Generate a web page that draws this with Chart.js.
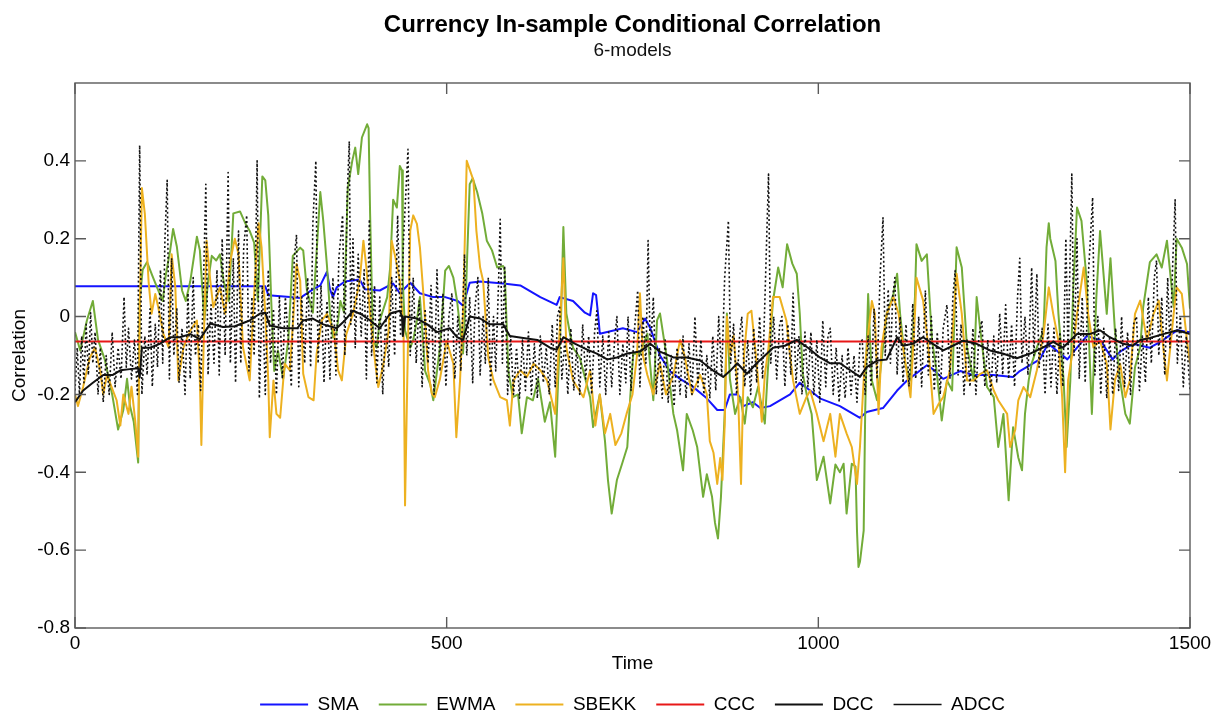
<!DOCTYPE html>
<html>
<head>
<meta charset="utf-8">
<script src="https://cdn.jsdelivr.net/npm/chart.js@4.4.1/dist/chart.umd.min.js"></script>
<style>
  html, body { margin: 0; padding: 0; background: #ffffff; }
  canvas { display: block; }
</style>
</head>
<body>
<canvas id="chart" width="1227" height="718"></canvas>
<script>
// Axis ticks
const xTicks = [0, 500, 1000, 1500];
const yTicks = [-0.8, -0.6, -0.4, -0.2, 0, 0.2, 0.4];

// Series names
const seriesNames = ['SMA', 'EWMA', 'SBEKK', 'CCC', 'DCC', 'ADCC'];

// SMA: [time, correlation]
const sma = [
  [0,0.078],[256,0.078],[260,0.055],[289,0.05],[303,0.048],[320,0.07],[330,0.08],[339,0.115],
  [343,0.07],[347,0.05],[352,0.075],[363,0.09],[383,0.095],[390,0.07],[410,0.067],[428,0.085],
  [437,0.06],[451,0.087],[464,0.06],[482,0.05],[498,0.05],[515,0.04],[522,0.028],[531,0.087],
  [545,0.09],[576,0.085],[599,0.08],[626,0.05],[648,0.03],[652,0.05],[670,0.04],[686,0.01],
  [693,0.003],[697,0.06],[701,0.055],[704,0.0],[706,-0.044],[726,-0.035],[737,-0.03],[756,-0.04],
  [767,-0.005],[774,-0.03],[787,-0.1],[800,-0.14],[814,-0.16],[831,-0.18],[850,-0.21],[864,-0.24],
  [874,-0.24],[881,-0.2],[892,-0.2],[899,-0.23],[912,-0.22],[922,-0.235],[935,-0.23],[962,-0.2],
  [975,-0.17],[989,-0.19],[1002,-0.21],[1029,-0.23],[1056,-0.26],[1065,-0.245],[1087,-0.235],
  [1106,-0.19],[1119,-0.165],[1146,-0.125],[1154,-0.135],[1168,-0.16],[1191,-0.14],[1208,-0.15],
  [1235,-0.15],[1262,-0.155],[1271,-0.14],[1298,-0.11],[1309,-0.07],[1316,-0.08],[1335,-0.11],
  [1348,-0.08],[1361,-0.05],[1379,-0.06],[1396,-0.11],[1406,-0.09],[1423,-0.07],[1446,-0.08],
  [1460,-0.065],[1483,-0.035],[1500,-0.04]
];

// EWMA: [time, correlation]
const ewma = [
  [0,-0.04],[7,-0.087],[16,-0.01],[24,0.04],[31,-0.06],[40,-0.11],[50,-0.2],[58,-0.29],[65,-0.24],
  [70,-0.16],[74,-0.23],[79,-0.27],[85,-0.375],[87,0.04],[91,0.12],[97,0.14],[104,0.105],[112,0.067],
  [118,0.04],[122,0.105],[128,0.17],[132,0.225],[137,0.18],[144,0.067],[149,0.04],[155,0.09],
  [164,0.205],[168,0.17],[174,-0.01],[179,0.09],[184,0.156],[190,0.144],[195,0.16],[200,0.09],
  [207,0.04],[213,0.265],[222,0.27],[229,0.24],[235,0.22],[241,0.19],[246,0.04],[252,0.36],
  [256,0.35],[260,0.26],[264,0.04],[268,-0.14],[273,-0.087],[280,-0.16],[287,-0.06],[293,0.156],
  [303,0.177],[307,0.17],[312,0.067],[320,0.01],[330,0.32],[334,0.246],[339,0.13],[343,0.01],
  [347,-0.054],[352,-0.04],[357,0.04],[362,0.01],[367,0.33],[373,0.4],[377,0.434],[381,0.366],
  [386,0.46],[393,0.494],[395,0.484],[397,0.264],[400,0.01],[401,-0.06],[406,-0.08],[410,-0.01],
  [420,0.05],[424,0.126],[428,0.3],[433,0.28],[437,0.387],[440,0.375],[441,0.09],[444,-0.036],
  [451,-0.08],[455,-0.06],[460,-0.01],[464,0.05],[471,-0.14],[478,-0.175],[482,-0.215],[487,-0.14],
  [491,-0.08],[498,0.118],[503,0.13],[509,0.1],[514,0.04],[522,-0.095],[526,0.067],[531,0.34],
  [535,0.355],[541,0.32],[548,0.264],[554,0.195],[561,0.17],[568,0.126],[576,0.13],[578,0.118],
  [583,-0.14],[589,-0.207],[596,-0.2],[601,-0.3],[608,-0.207],[616,-0.215],[623,-0.16],[632,-0.27],
  [639,-0.22],[646,-0.36],[650,-0.16],[654,0.008],[657,0.23],[661,0.008],[666,-0.044],[670,-0.08],
  [679,-0.105],[693,-0.207],[697,-0.284],[706,-0.2],[713,-0.32],[717,-0.42],[722,-0.506],[729,-0.42],
  [736,-0.378],[743,-0.335],[747,-0.207],[751,-0.095],[760,-0.096],[770,-0.044],[778,-0.215],
  [783,-0.01],[787,0.008],[796,-0.105],[805,-0.25],[810,-0.292],[818,-0.395],[823,-0.25],[831,-0.292],
  [837,-0.335],[845,-0.463],[850,-0.405],[857,-0.463],[861,-0.53],[865,-0.57],[869,-0.463],[874,-0.25],
  [877,0.008],[881,-0.16],[888,-0.25],[895,-0.207],[901,-0.275],[905,-0.207],[912,-0.233],[919,-0.18],
  [928,-0.275],[932,-0.14],[939,0.04],[946,0.126],[952,0.075],[958,0.186],[965,0.136],[971,0.11],
  [975,0.008],[979,-0.146],[985,-0.207],[991,-0.25],[998,-0.42],[1007,-0.36],[1016,-0.48],
  [1023,-0.38],[1029,-0.4],[1034,-0.378],[1038,-0.506],[1045,-0.378],[1050,-0.385],[1052,-0.55],
  [1054,-0.643],[1056,-0.63],[1061,-0.55],[1063,-0.25],[1065,-0.079],[1067,0.058],[1072,-0.164],
  [1079,-0.215],[1085,-0.113],[1092,0.007],[1101,0.058],[1106,0.11],[1110,0.007],[1117,-0.121],
  [1124,-0.164],[1130,0.05],[1132,0.186],[1139,0.143],[1146,0.16],[1153,-0.062],[1159,-0.138],
  [1166,-0.267],[1173,-0.164],[1180,-0.19],[1186,0.178],[1193,0.126],[1200,-0.079],[1209,-0.164],
  [1213,0.05],[1218,-0.036],[1227,-0.181],[1236,-0.207],[1242,-0.335],[1249,-0.25],[1256,-0.472],
  [1262,-0.284],[1269,-0.362],[1274,-0.395],[1278,-0.25],[1283,-0.164],[1287,-0.121],[1294,-0.079],
  [1303,-0.036],[1307,0.178],[1310,0.24],[1312,0.2],[1319,0.143],[1323,0.007],[1330,-0.164],
  [1334,-0.335],[1339,-0.164],[1343,0.075],[1348,0.28],[1354,0.246],[1361,0.092],[1368,-0.25],
  [1374,0.05],[1379,0.22],[1388,0.007],[1393,0.15],[1399,-0.036],[1406,-0.164],[1413,-0.25],
  [1419,-0.275],[1426,-0.13],[1433,-0.079],[1437,0.024],[1446,0.14],[1455,0.16],[1462,0.126],
  [1469,0.195],[1478,0.024],[1482,0.2],[1489,0.177],[1496,0.135],[1500,0.02]
];

// SBEKK: [time, correlation]
const sbekk = [
  [0,-0.2],[4,-0.23],[11,-0.18],[20,-0.105],[27,-0.08],[34,-0.14],[38,-0.2],[43,-0.15],[49,-0.18],
  [56,-0.215],[61,-0.28],[65,-0.2],[72,-0.25],[76,-0.18],[81,-0.268],[85,-0.36],[87,0.007],[90,0.33],
  [94,0.263],[99,0.09],[103,0.007],[108,0.058],[112,0.024],[119,-0.045],[126,-0.079],[130,0.16],
  [135,0.075],[139,-0.164],[146,-0.079],[155,-0.036],[164,-0.01],[168,-0.164],[170,-0.33],
  [173,-0.079],[177,0.195],[182,0.092],[186,0.024],[195,0.075],[202,0.007],[209,0.144],[215,0.2],
  [220,0.16],[226,-0.079],[235,-0.164],[242,0.092],[247,0.24],[251,0.178],[256,0.007],[260,-0.164],
  [262,-0.31],[267,-0.164],[271,-0.25],[276,-0.26],[282,-0.121],[289,-0.138],[294,0.007],[298,0.135],
  [303,0.092],[307,-0.147],[314,-0.207],[321,-0.215],[325,-0.096],[332,-0.01],[339,0.007],[348,-0.036],
  [354,-0.138],[359,-0.164],[365,-0.045],[374,0.007],[383,0.092],[388,0.195],[392,0.126],[397,0.007],
  [404,-0.121],[408,-0.181],[415,-0.121],[422,-0.036],[426,0.195],[431,0.152],[437,0.092],[442,-0.036],
  [444,-0.485],[447,-0.164],[451,0.221],[455,0.26],[460,0.238],[464,0.178],[469,0.05],[475,-0.138],
  [480,-0.198],[484,-0.207],[491,-0.16],[500,-0.062],[509,-0.121],[513,-0.31],[518,-0.164],[522,0.007],
  [527,0.4],[536,0.35],[540,0.22],[545,0.126],[549,0.092],[556,-0.105],[563,-0.164],[572,-0.207],
  [581,-0.215],[585,-0.28],[590,-0.164],[599,-0.138],[608,-0.155],[617,-0.121],[626,-0.138],
  [635,-0.164],[646,-0.25],[652,-0.036],[657,0.15],[661,-0.079],[670,-0.164],[684,-0.207],
  [693,-0.138],[700,-0.28],[706,-0.2],[713,-0.3],[720,-0.25],[727,-0.33],[735,-0.3],[742,-0.25],
  [750,-0.2],[756,-0.1],[760,0.06],[764,-0.1],[770,-0.15],[778,-0.2],[787,-0.12],[795,-0.2],
  [805,-0.15],[814,-0.06],[820,-0.1],[830,-0.2],[841,-0.15],[850,-0.2],[854,-0.32],[859,-0.35],
  [864,-0.43],[868,-0.363],[871,-0.42],[874,-0.28],[877,0.0],[881,-0.1],[886,-0.05],[892,-0.2],
  [896,-0.43],[900,-0.1],[905,0.007],[910,0.015],[916,-0.1],[924,-0.27],[928,-0.15],[933,-0.079],
  [939,0.05],[948,0.05],[957,-0.01],[962,-0.1],[966,-0.164],[975,-0.25],[984,-0.207],[989,-0.19],
  [998,-0.25],[1007,-0.32],[1016,-0.25],[1023,-0.36],[1029,-0.25],[1038,-0.3],[1045,-0.335],
  [1052,-0.43],[1056,-0.335],[1061,-0.164],[1067,-0.045],[1072,0.04],[1076,0.007],[1081,-0.25],
  [1085,-0.079],[1092,0.007],[1101,0.05],[1108,0.007],[1114,-0.079],[1124,-0.207],[1130,0.007],
  [1132,0.1],[1141,0.041],[1148,-0.079],[1155,-0.25],[1162,-0.224],[1168,-0.207],[1177,-0.138],
  [1186,0.11],[1193,0.007],[1200,-0.164],[1209,-0.164],[1218,-0.147],[1227,-0.138],[1236,-0.19],
  [1242,-0.215],[1254,-0.25],[1258,-0.335],[1265,-0.29],[1269,-0.215],[1276,-0.181],[1285,-0.207],
  [1294,-0.138],[1303,-0.045],[1310,0.075],[1316,0.007],[1323,-0.062],[1328,-0.207],[1332,-0.4],
  [1336,-0.164],[1343,-0.079],[1348,0.007],[1357,0.126],[1363,0.007],[1370,-0.079],[1379,-0.062],
  [1388,-0.121],[1393,-0.29],[1399,-0.164],[1406,-0.121],[1413,-0.207],[1419,-0.164],[1426,0.007],
  [1433,0.041],[1442,-0.062],[1451,0.007],[1458,0.041],[1464,-0.079],[1469,-0.164],[1478,0.007],
  [1482,0.075],[1489,0.058],[1496,-0.062],[1500,-0.12]
];

// CCC: constant correlation
const ccc = [[0,-0.064],[1500,-0.064]];

// DCC: [time, correlation]
const dcc = [
  [0,-0.22],[11,-0.19],[24,-0.17],[38,-0.15],[51,-0.15],[61,-0.138],[74,-0.135],[85,-0.133],
  [87,-0.157],[90,-0.08],[101,-0.08],[114,-0.07],[128,-0.053],[141,-0.053],[155,-0.045],[168,-0.058],
  [182,-0.018],[199,-0.027],[215,-0.025],[235,-0.01],[249,0.008],[256,0.01],[262,-0.023],[280,-0.03],
  [299,-0.03],[307,-0.01],[320,-0.005],[334,-0.02],[352,-0.03],[363,-0.01],[374,0.015],[386,0.005],
  [397,-0.01],[410,-0.03],[424,0.008],[437,0.015],[440,0.0],[441,-0.05],[444,0.0],[460,-0.005],
  [474,-0.02],[487,-0.04],[504,-0.03],[514,-0.053],[522,-0.06],[531,0.0],[545,-0.005],[558,-0.02],
  [576,-0.02],[585,-0.05],[603,-0.055],[622,-0.06],[639,-0.08],[648,-0.085],[657,-0.053],[673,-0.07],
  [689,-0.085],[702,-0.095],[716,-0.11],[729,-0.105],[743,-0.095],[760,-0.09],[774,-0.07],[787,-0.09],
  [805,-0.105],[823,-0.105],[841,-0.113],[858,-0.138],[872,-0.155],[881,-0.14],[891,-0.12],
  [904,-0.147],[917,-0.12],[931,-0.095],[939,-0.08],[955,-0.075],[971,-0.06],[986,-0.08],
  [1002,-0.105],[1016,-0.12],[1029,-0.12],[1043,-0.138],[1056,-0.155],[1065,-0.13],[1079,-0.113],
  [1092,-0.11],[1106,-0.053],[1114,-0.075],[1127,-0.07],[1141,-0.053],[1154,-0.07],[1168,-0.087],
  [1181,-0.075],[1195,-0.062],[1213,-0.07],[1231,-0.087],[1248,-0.095],[1267,-0.107],[1285,-0.095],
  [1302,-0.08],[1316,-0.065],[1329,-0.08],[1348,-0.045],[1365,-0.045],[1379,-0.035],[1392,-0.053],
  [1410,-0.07],[1423,-0.075],[1433,-0.06],[1446,-0.055],[1464,-0.045],[1483,-0.035],[1500,-0.045]
];

// ADCC: [time, correlation]
const adcc = [
  [0,-0.19],[3,-0.08],[6,-0.2],[9,-0.05],[12,-0.17],[15,-0.02],[18,-0.15],[21,0.01],[24,-0.12],
  [27,-0.04],[31,-0.2],[34,-0.08],[38,-0.22],[42,-0.1],[46,-0.2],[50,-0.04],[54,-0.18],[58,-0.08],
  [62,-0.16],[66,0.05],[69,-0.13],[72,-0.03],[76,-0.16],[80,-0.06],[84,-0.2],[87,0.44],[90,-0.2],
  [94,-0.05],[97,-0.15],[101,0.02],[104,-0.18],[108,-0.02],[111,-0.13],[115,0.12],[118,-0.12],
  [121,0.2],[124,0.35],[127,-0.16],[130,0.15],[133,-0.1],[137,0.02],[140,-0.17],[144,-0.03],
  [148,-0.2],[152,0.06],[155,-0.16],[159,0.1],[162,-0.1],[166,-0.02],[169,-0.19],[173,0.1],
  [176,0.34],[179,-0.15],[183,0.03],[187,-0.12],[191,0.12],[194,-0.15],[198,0.2],[202,-0.1],
  [206,0.37],[209,-0.12],[213,0.15],[216,-0.17],[220,0.22],[223,-0.12],[227,0.18],[231,0.26],
  [234,-0.14],[238,0.05],[241,-0.1],[245,0.4],[248,-0.21],
  [252,0.08],[256,-0.2],[260,0.12],[263,-0.12],[267,0.02],[271,-0.2],[275,0.05],[279,-0.16],
  [283,0.05],[287,-0.06],[291,-0.18],[295,0.15],[298,0.21],[301,-0.18],[305,0.05],[309,-0.12],
  [313,0.1],[317,-0.13],[320,0.24],[324,0.4],[327,-0.12],[331,0.08],[335,-0.17],[339,0.04],
  [343,-0.16],[347,0.1],[351,-0.15],[355,0.15],[360,0.26],[363,-0.1],[366,0.3],[369,0.45],
  [371,-0.02],[374,0.2],[377,-0.08],[381,0.16],[385,-0.05],[389,0.12],[392,-0.16],[396,0.25],
  [399,-0.1],[403,0.08],[406,-0.17],[410,0.05],[414,-0.2],[418,0.0],[422,-0.13],[426,0.1],
  [430,-0.1],[434,0.26],[438,-0.05],[442,0.2],[448,0.43],[451,-0.1],[455,0.1],[459,-0.12],
  [463,0.04],[467,-0.18],[471,0.02],[475,-0.12],[479,0.08],[483,-0.2],[487,0.12],[491,-0.14],
  [495,0.06],[499,-0.18],
  [503,0.0],[507,0.06],[511,-0.16],[515,0.0],[519,-0.14],[524,0.16],[527,-0.1],[531,0.05],
  [535,-0.17],[538,0.02],[542,0.1],[545,-0.15],[549,0.0],[552,-0.12],[556,0.1],[559,-0.18],
  [563,0.0],[566,-0.14],[570,0.1],[572,0.25],[575,-0.12],[578,0.13],[582,-0.2],[586,-0.05],
  [590,-0.2],[594,-0.08],[598,-0.21],[602,-0.06],[606,-0.19],[610,-0.04],[614,-0.2],[618,-0.07],
  [622,-0.21],[626,-0.05],[630,-0.17],[634,-0.08],[638,-0.2],[642,-0.02],[646,-0.18],[649,0.0],
  [652,0.024],[655,-0.16],[659,-0.06],[663,-0.2],[667,-0.03],[671,-0.19],[675,-0.08],[679,-0.2],
  [683,-0.02],[687,-0.16],[691,-0.05],[695,-0.2],[699,-0.04],[702,0.015],[706,-0.18],
  [710,-0.05],[714,-0.2],[718,-0.04],[722,-0.18],[726,-0.06],[729,0.0],[733,-0.2],[737,-0.07],
  [741,-0.17],[744,0.0],[748,-0.19],[752,-0.05],[757,0.067],[760,-0.18],[764,0.0],[768,-0.12],
  [771,0.195],[774,-0.1],[778,0.05],[782,-0.2],[786,-0.08],[790,-0.21],[794,-0.06],[798,-0.22],
  [802,-0.1],[806,-0.23],[810,-0.08],[814,-0.2],[818,-0.05],[822,-0.21],[826,-0.07],[830,-0.2],
  [834,0.0],[838,-0.18],[842,-0.06],[846,-0.2],[850,-0.1],[854,-0.21],[858,-0.05],[862,-0.19],
  [866,0.0],[870,-0.15],[874,0.1],[879,0.246],[882,-0.12],[886,-0.02],[890,-0.2],[894,-0.05],
  [897,0.0],[901,-0.18],[905,-0.06],[909,-0.2],[913,-0.03],[917,-0.17],[921,0.0],[925,-0.16],
  [929,0.1],[933,0.366],[936,-0.12],[940,0.0],[944,-0.16],[948,-0.02],[951,0.0],[955,-0.18],
  [959,-0.02],[963,-0.15],[966,0.06],[970,-0.17],[974,-0.05],[978,-0.2],[982,-0.04],[986,-0.18],
  [990,-0.04],[994,-0.2],[998,-0.06],[1002,-0.22],[1006,-0.01],[1010,-0.18],[1013,-0.05],
  [1016,-0.03],[1020,-0.2],[1024,-0.08],[1028,-0.22],[1032,-0.1],[1036,-0.21],[1040,-0.08],
  [1044,-0.2],[1048,-0.1],[1052,-0.22],[1056,-0.07],[1059,-0.06],[1063,-0.2],[1067,-0.05],
  [1071,-0.18],[1075,0.02],[1079,-0.16],[1083,0.1],[1087,0.254],[1090,-0.1],[1094,0.07],
  [1097,-0.12],[1100,0.05],[1103,0.1],[1106,-0.15],[1110,0.0],[1114,-0.17],[1118,-0.02],
  [1122,-0.18],[1127,0.033],[1131,-0.16],[1135,0.0],[1139,-0.18],[1144,0.067],[1148,-0.15],
  [1152,0.0],[1156,-0.19],[1160,-0.04],[1164,-0.2],[1168,-0.03],[1173,0.03],[1177,-0.16],
  [1181,0.05],[1184,0.118],[1188,-0.15],[1192,-0.02],[1196,-0.2],[1200,-0.06],[1204,-0.18],
  [1208,-0.03],[1212,-0.2],[1216,-0.05],[1220,-0.01],[1224,-0.18],[1228,-0.06],[1232,-0.2],
  [1236,-0.05],[1240,-0.17],[1244,0.008],[1248,-0.15],
  [1252,0.03],[1256,-0.16],[1260,-0.02],[1264,-0.18],[1268,0.05],[1271,0.15],[1274,-0.12],
  [1278,0.0],[1282,-0.15],[1287,0.126],[1290,-0.1],[1294,0.11],[1297,-0.13],[1301,-0.03],
  [1305,-0.2],[1309,-0.02],[1313,-0.18],[1317,-0.03],[1321,-0.2],[1325,-0.04],[1329,-0.18],
  [1333,0.2],[1336,-0.1],[1341,0.366],[1344,-0.1],[1348,0.2],[1351,-0.16],[1355,0.05],
  [1359,-0.17],[1363,0.1],[1366,0.2],[1369,0.306],[1372,-0.15],[1376,0.0],[1380,-0.2],
  [1384,-0.03],[1388,-0.21],[1392,-0.05],[1396,-0.2],[1400,-0.03],[1404,-0.19],[1408,0.0],
  [1412,-0.18],[1416,-0.04],[1420,-0.2],[1424,-0.02],[1428,0.0],[1432,-0.19],[1436,-0.05],
  [1440,-0.17],[1444,0.05],[1448,-0.12],[1452,0.1],[1455,0.144],[1458,-0.1],[1462,0.05],
  [1466,-0.15],[1470,0.1],[1473,-0.08],[1477,0.15],[1480,0.3],[1483,-0.12],[1487,0.0],
  [1491,-0.18],[1495,-0.05],[1500,-0.19]
];

const toXY = pts => pts.map(([t, v]) => ({ x: t, y: v }));

Chart.defaults.font.family = "'Liberation Sans', Arial, Helvetica, sans-serif";
Chart.defaults.color = '#000';

// Boxed axes with inward tick marks on all four sides
const axesBox = {
  id: 'axesBox',
  afterDatasetsDraw(chart) {
    const { ctx, chartArea: a, scales: { x, y } } = chart;
    const len = 11;
    ctx.save();
    ctx.strokeStyle = '#5a5a5a';
    ctx.lineWidth = 1.4;
    ctx.beginPath();
    x.ticks.forEach(t => {
      const px = x.getPixelForValue(t.value);
      ctx.moveTo(px, a.bottom); ctx.lineTo(px, a.bottom - len);
      ctx.moveTo(px, a.top); ctx.lineTo(px, a.top + len);
    });
    y.ticks.forEach(t => {
      const py = y.getPixelForValue(t.value);
      ctx.moveTo(a.left, py); ctx.lineTo(a.left + len, py);
      ctx.moveTo(a.right, py); ctx.lineTo(a.right - len, py);
    });
    ctx.stroke();
    ctx.strokeRect(a.left, a.top, a.right - a.left, a.bottom - a.top);
    ctx.restore();
  }
};

const lineBase = { pointRadius: 0, pointHoverRadius: 0, tension: 0, borderJoinStyle: 'round', fill: false };

new Chart(document.getElementById('chart'), {
  type: 'line',
  data: {
    datasets: [
      { ...lineBase, label: seriesNames[0], data: toXY(sma),   borderColor: '#1414ff', borderWidth: 2,   order: 6 },
      { ...lineBase, label: seriesNames[1], data: toXY(ewma),  borderColor: '#72ac38', borderWidth: 2,   order: 5 },
      { ...lineBase, label: seriesNames[2], data: toXY(sbekk), borderColor: '#edb120', borderWidth: 2,   order: 4 },
      { ...lineBase, label: seriesNames[3], data: toXY(ccc),   borderColor: '#e81818', borderWidth: 2,   order: 3 },
      { ...lineBase, label: seriesNames[4], data: toXY(dcc),   borderColor: '#111111', borderWidth: 2,   order: 2 },
      { ...lineBase, label: seriesNames[5], data: toXY(adcc),  borderColor: '#111111', borderWidth: 1.6, borderDash: [2, 2.5], order: 1 }
    ]
  },
  options: {
    responsive: false,
    animation: false,
    events: [],
    layout: { padding: { left: 0, right: 37, top: 0, bottom: 0 } },
    plugins: {
      title: {
        display: true,
        text: 'Currency In-sample Conditional Correlation',
        fullSize: false,
        color: '#000',
        font: { size: 24, weight: 'bold' },
        padding: { top: 11, bottom: 0 }
      },
      subtitle: {
        display: true,
        text: '6-models',
        fullSize: false,
        color: '#111',
        font: { size: 19 },
        padding: { top: 0, bottom: 20.4 }
      },
      legend: {
        position: 'bottom',
        fullSize: false,
        maxHeight: 43,
        labels: {
          usePointStyle: true,
          pointStyle: 'line',
          pointStyleWidth: 48,
          padding: 20,
          color: '#000',
          font: { size: 19 },
          sort: (a, b) => a.datasetIndex - b.datasetIndex
        }
      },
      tooltip: { enabled: false }
    },
    scales: {
      x: {
        type: 'linear',
        min: 0,
        max: 1500,
        afterBuildTicks: s => { s.ticks = xTicks.map(v => ({ value: v })); },
        afterFit: s => { s.height = 47; },
        grid: { display: false, drawTicks: false },
        border: { display: false },
        ticks: { color: '#000', font: { size: 19 }, padding: 4, maxRotation: 0, callback: v => String(v) },
        title: { display: true, text: 'Time', color: '#000', font: { size: 19 }, padding: { top: 0, bottom: 0 } }
      },
      y: {
        type: 'linear',
        min: -0.8,
        max: 0.6,
        afterBuildTicks: s => { s.ticks = yTicks.map(v => ({ value: v })); },
        afterFit: s => { s.width = 75; },
        grid: { display: false, drawTicks: false },
        border: { display: false },
        ticks: { color: '#000', font: { size: 19 }, padding: 5, callback: v => String(Math.round(v * 10) / 10) },
        title: { display: true, text: 'Correlation', color: '#000', font: { size: 19 }, padding: { top: 8, bottom: 0 } }
      }
    }
  },
  plugins: [axesBox]
});
</script>
</body>
</html>
